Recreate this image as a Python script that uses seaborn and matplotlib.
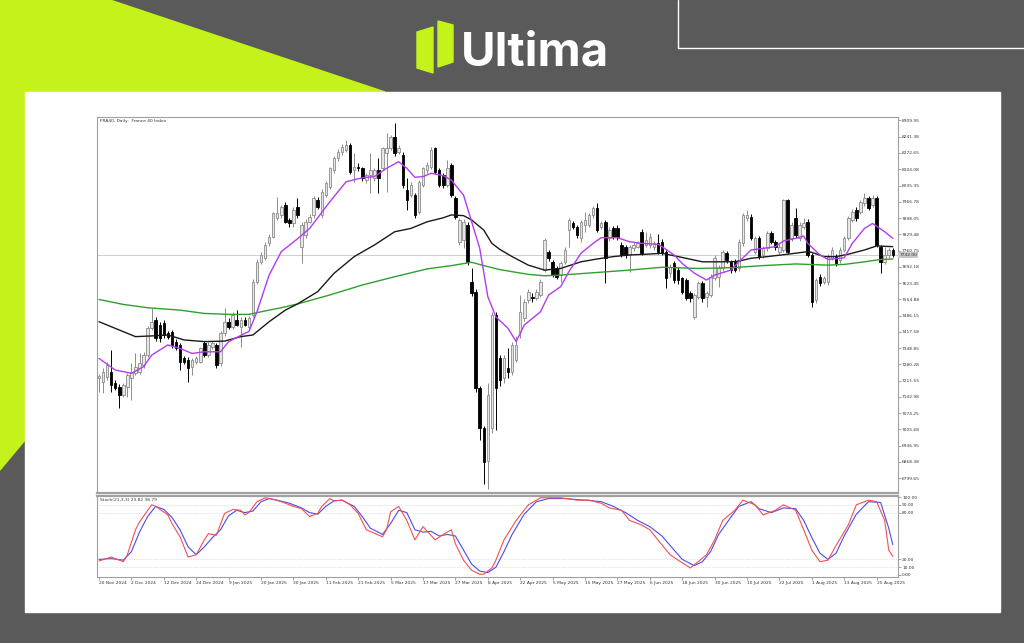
import numpy as np
import pandas as pd
import matplotlib
matplotlib.use('Agg')
import matplotlib.pyplot as plt
import seaborn as sns
from matplotlib.patches import Polygon, Rectangle

sns.set_theme(style='white')
plt.rcParams['font.family'] = ['DejaVu Sans']

# ---------------- data ----------------
date_labels = ['20 Nov 2024', '2 Dec 2024', '12 Dec 2024', '24 Dec 2024', '9 Jan 2025',
               '20 Jan 2025', '30 Jan 2025', '11 Feb 2025', '21 Feb 2025', '5 Mar 2025',
               '17 Mar 2025', '27 Mar 2025', '8 Apr 2025', '22 Apr 2025', '5 May 2025',
               '15 May 2025', '27 May 2025', '6 Jun 2025', '18 Jun 2025', '30 Jun 2025',
               '10 Jul 2025', '22 Jul 2025', '1 Aug 2025', '13 Aug 2025', '25 Aug 2025']

opens = [7222, 7207, 7228, 7249, 7200, 7186, 7150, 7186, 7221, 7242,
         7249, 7277, 7319, 7432, 7467, 7446, 7453, 7411, 7418, 7376,
         7362, 7305, 7298, 7270, 7291, 7291, 7369, 7319, 7355, 7362,
         7284, 7411, 7460, 7439, 7467, 7439, 7467, 7439, 7488, 7629,
         7713, 7728, 7791, 7819, 7897, 7911, 7953, 7890, 7875, 7946,
         7777, 7826, 7882, 7911, 7974, 7911, 7995, 8030, 8101, 8150,
         8178, 8185, 8206, 8101, 8115, 8108, 8058, 8080, 8066, 8101,
         8108, 8171, 8192, 8241, 8178, 8164, 8016, 7995, 7995, 7925,
         8037, 8101, 8115, 8192, 8101, 8080, 8037, 8122, 7981, 7798,
         7805, 7868, 7629, 7587, 7178, 7010, 6870, 7010, 7488, 7305,
         7221, 7263, 7249, 7300, 7418, 7474, 7552, 7566, 7559, 7573,
         7678, 7756, 7713, 7685, 7657, 7713, 7847, 7875, 7861, 7812,
         7868, 7868, 7911, 7939, 7861, 7882, 7812, 7854, 7854, 7784,
         7777, 7742, 7770, 7777, 7840, 7784, 7784, 7777, 7791, 7798,
         7756, 7664, 7706, 7678, 7643, 7636, 7580, 7481, 7566, 7622,
         7566, 7573, 7643, 7650, 7685, 7749, 7713, 7713, 7685, 7791,
         7897, 7904, 7756, 7812, 7742, 7770, 7833, 7798, 7756, 7763,
         7974, 7812, 7897, 7812, 7861, 7882, 7742, 7552, 7650, 7629,
         7629, 7728, 7735, 7721, 7763, 7812, 7890, 7932, 7925, 7960,
         7981, 7953, 7981, 7777, 7713, 7742, 7763]

highs = [7240, 7263, 7291, 7340, 7215, 7195, 7200, 7245, 7284, 7326,
         7326, 7333, 7440, 7516, 7480, 7460, 7467, 7420, 7425, 7385,
         7370, 7315, 7310, 7305, 7315, 7355, 7380, 7375, 7380, 7370,
         7420, 7516, 7475, 7500, 7510, 7480, 7480, 7485, 7640, 7725,
         7755, 7795, 7830, 7925, 7988, 7955, 7965, 7900, 7945, 7981,
         7880, 7895, 7915, 7990, 7985, 8020, 8055, 8115, 8160, 8190,
         8210, 8227, 8215, 8171, 8130, 8115, 8090, 8171, 8110, 8150,
         8200, 8256, 8250, 8298, 8205, 8175, 8066, 8050, 8005, 8060,
         8115, 8135, 8200, 8200, 8110, 8090, 8143, 8130, 7990, 7900,
         7895, 7880, 7685, 7600, 7190, 7020, 7200, 7500, 7500, 7320,
         7320, 7347, 7375, 7400, 7573, 7555, 7600, 7580, 7600, 7640,
         7815, 7765, 7720, 7695, 7715, 7775, 7900, 7885, 7870, 7890,
         7925, 7920, 7950, 7960, 7885, 7890, 7860, 7865, 7870, 7795,
         7785, 7785, 7795, 7800, 7850, 7840, 7835, 7800, 7830, 7810,
         7765, 7705, 7715, 7690, 7650, 7645, 7590, 7580, 7630, 7630,
         7590, 7660, 7740, 7700, 7765, 7760, 7720, 7725, 7810, 7920,
         7932, 7915, 7820, 7820, 7780, 7845, 7845, 7805, 7790, 7980,
         7980, 7880, 7939, 7880, 7900, 7895, 7750, 7645, 7660, 7655,
         7745, 7775, 7745, 7775, 7820, 7905, 7935, 7945, 7975, 8002,
         7990, 7995, 7990, 7785, 7775, 7770, 7770]

lows = [7165, 7157, 7214, 7164, 7170, 7097, 7140, 7143, 7129, 7235,
        7240, 7265, 7310, 7425, 7380, 7375, 7390, 7385, 7350, 7340,
        7256, 7280, 7207, 7235, 7280, 7285, 7310, 7310, 7345, 7265,
        7275, 7400, 7430, 7430, 7440, 7355, 7440, 7430, 7480, 7620,
        7705, 7720, 7780, 7812, 7890, 7900, 7875, 7860, 7860, 7900,
        7706, 7815, 7875, 7900, 7935, 7900, 7985, 8020, 8090, 8140,
        8165, 8175, 8085, 8050, 8095, 8055, 8045, 8002, 8055, 8002,
        8100, 8009, 8185, 8160, 8170, 8025, 7932, 7985, 7900, 7915,
        8030, 8090, 8105, 8085, 8030, 8025, 8030, 7985, 7895, 7785,
        7770, 7700, 7570, 7165, 6960, 6775, 6755, 6990, 7003, 7190,
        7200, 7221, 7235, 7290, 7390, 7465, 7540, 7545, 7550, 7565,
        7670, 7715, 7650, 7640, 7629, 7705, 7777, 7850, 7815, 7798,
        7840, 7860, 7900, 7840, 7850, 7622, 7800, 7810, 7805, 7735,
        7730, 7671, 7760, 7770, 7740, 7775, 7770, 7765, 7745, 7740,
        7601, 7650, 7625, 7620, 7575, 7550, 7545, 7470, 7555, 7545,
        7523, 7565, 7635, 7608, 7675, 7710, 7665, 7670, 7675, 7780,
        7885, 7805, 7745, 7725, 7730, 7760, 7790, 7765, 7745, 7755,
        7745, 7800, 7815, 7800, 7850, 7735, 7523, 7540, 7610, 7620,
        7615, 7720, 7695, 7710, 7755, 7805, 7880, 7885, 7915, 7950,
        7930, 7945, 7775, 7664, 7705, 7730, 7735]

closes = [7230, 7249, 7277, 7193, 7180, 7150, 7193, 7235, 7249, 7270,
          7284, 7319, 7432, 7460, 7390, 7390, 7404, 7397, 7362, 7347,
          7291, 7291, 7263, 7298, 7305, 7347, 7319, 7362, 7369, 7277,
          7411, 7460, 7439, 7488, 7446, 7467, 7446, 7474, 7629, 7713,
          7742, 7784, 7819, 7918, 7918, 7946, 7882, 7875, 7932, 7911,
          7868, 7882, 7904, 7981, 7946, 8009, 8044, 8108, 8150, 8178,
          8199, 8206, 8094, 8115, 8108, 8066, 8080, 8101, 8101, 8066,
          8192, 8192, 8241, 8171, 8192, 8037, 7974, 8037, 7911, 8051,
          8108, 8122, 8185, 8094, 8037, 8037, 8108, 7995, 7904, 7890,
          7882, 7713, 7580, 7178, 7010, 6869, 7150, 7488, 7180, 7214,
          7305, 7249, 7362, 7362, 7502, 7545, 7587, 7559, 7587, 7629,
          7805, 7728, 7657, 7650, 7706, 7763, 7890, 7861, 7826, 7882,
          7890, 7911, 7939, 7847, 7875, 7728, 7847, 7819, 7819, 7742,
          7742, 7777, 7784, 7791, 7749, 7805, 7819, 7791, 7756, 7749,
          7643, 7692, 7636, 7636, 7587, 7559, 7559, 7573, 7622, 7559,
          7580, 7650, 7728, 7685, 7756, 7721, 7678, 7678, 7798, 7911,
          7911, 7812, 7812, 7735, 7770, 7833, 7798, 7777, 7777, 7974,
          7756, 7868, 7826, 7868, 7875, 7742, 7545, 7636, 7622, 7643,
          7735, 7763, 7706, 7763, 7812, 7897, 7925, 7897, 7967, 7981,
          7939, 7981, 7784, 7713, 7742, 7763, 7742]

# moving averages (bar index, value)
ma_fast_bar = [0, 4, 8, 11, 13, 17, 20, 23, 26, 30, 32, 36, 37, 39, 42, 45, 49, 52, 57, 61,
               65, 68, 71, 74, 76, 78, 80, 82, 85, 87, 90, 91, 94, 96, 98, 101, 103, 105, 109, 111,
               114, 116, 119, 122, 124, 128, 131, 134, 138, 139, 142, 144, 147, 150, 152, 156, 158, 161, 164, 167,
               169, 172, 174, 175, 178, 180, 184, 186, 189, 191, 194, 196]
ma_fast_val = [7305, 7256, 7242, 7270, 7319, 7362, 7347, 7326, 7333, 7333, 7376, 7411, 7418, 7502, 7657, 7756, 7810, 7854, 7967, 8051,
               8068, 8073, 8108, 8136, 8108, 8070, 8073, 8087, 8077, 8058, 7995, 7939, 7770, 7566, 7480, 7432, 7376, 7446, 7502, 7573,
               7608, 7671, 7749, 7791, 7815, 7815, 7798, 7791, 7787, 7777, 7742, 7706, 7665, 7636, 7657, 7678, 7713, 7763, 7770, 7777,
               7801, 7812, 7822, 7791, 7742, 7723, 7730, 7791, 7854, 7875, 7840, 7812]

ma_mid_bar = [0, 4, 9, 13, 17, 21, 26, 31, 35, 38, 42, 46, 49, 54, 58, 63, 68, 73, 77, 81,
              85, 87, 90, 92, 95, 97, 99, 102, 106, 110, 114, 119, 123, 127, 131, 135, 139, 143, 149, 156,
              158, 161, 165, 170, 175, 176, 179, 182, 185, 189, 192, 196]
ma_mid_val = [7460, 7432, 7397, 7400, 7404, 7383, 7376, 7378, 7397, 7404, 7460, 7509, 7535, 7587, 7664, 7735, 7784, 7840, 7854, 7882,
              7899, 7911, 7908, 7890, 7847, 7791, 7765, 7735, 7699, 7678, 7685, 7713, 7725, 7735, 7742, 7745, 7749, 7735, 7713, 7713,
              7716, 7728, 7735, 7745, 7756, 7753, 7735, 7735, 7745, 7763, 7780, 7777]

ma_slow_bar = [0, 6, 12, 20, 26, 32, 37, 42, 45, 49, 57, 65, 73, 81, 87, 92, 95, 99, 106, 110,
               114, 123, 131, 139, 148, 156, 164, 172, 180, 184, 189, 193, 196]
ma_slow_val = [7554, 7533, 7519, 7509, 7495, 7491, 7491, 7509, 7519, 7535, 7573, 7615, 7650, 7683, 7697, 7711, 7697, 7680, 7660, 7654,
               7657, 7668, 7678, 7690, 7685, 7688, 7697, 7704, 7699, 7702, 7713, 7723, 7725]

# stochastic (21,3,3): main (red) and signal (blue)
stoch_main_bar = [0, 3, 6, 7, 9, 10, 13, 14, 17, 18, 20, 22, 24, 26, 27, 29, 31, 33, 35, 36,
                  37, 39, 41, 43, 45, 48, 50, 52, 54, 55, 57, 58, 60, 62, 64, 66, 70, 71, 72, 74,
                  76, 78, 80, 83, 85, 87, 88, 90, 92, 94, 95, 97, 98, 100, 103, 106, 109, 114, 118, 121,
                  124, 126, 129, 131, 134, 136, 138, 141, 143, 146, 147, 150, 152, 154, 157, 159, 162, 164, 167, 169,
                  172, 174, 176, 178, 180, 182, 185, 187, 190, 192, 194, 195, 196]
stoch_main_val = [18, 23, 17, 26, 58, 68, 90, 88, 77, 66, 49, 23, 26, 45, 53, 51, 79, 84, 83, 77,
                  80, 94, 99, 97, 94, 88, 85, 75, 79, 88, 98, 95, 96, 90, 79, 58, 49, 58, 81, 88,
                  70, 45, 62, 45, 52, 58, 40, 19, 6, 1, 1, 9, 19, 45, 70, 90, 99, 99, 96, 96,
                  92, 86, 83, 70, 64, 58, 45, 26, 19, 9, 13, 26, 45, 70, 83, 96, 90, 77, 83, 90,
                  83, 58, 32, 17, 19, 38, 64, 90, 96, 94, 70, 32, 23.82]
stoch_sig_bar = [0, 3, 6, 8, 10, 12, 14, 16, 18, 20, 22, 24, 26, 28, 30, 32, 34, 36, 38, 40,
                 42, 44, 47, 50, 52, 54, 56, 58, 60, 63, 65, 67, 70, 72, 74, 76, 78, 80, 82, 84,
                 86, 88, 90, 92, 94, 96, 98, 100, 102, 105, 108, 111, 115, 120, 124, 127, 130, 133, 136, 139,
                 142, 144, 147, 149, 151, 153, 156, 158, 161, 163, 166, 169, 172, 174, 176, 178, 180, 182, 184, 187,
                 190, 193, 195, 196]
stoch_sig_val = [20, 21, 19, 30, 55, 75, 88, 84, 74, 58, 36, 26, 36, 48, 58, 76, 83, 80, 82, 94,
                 98, 96, 92, 86, 80, 78, 88, 95, 96, 88, 75, 60, 52, 66, 83, 80, 58, 55, 56, 50,
                 52, 50, 32, 14, 5, 3, 10, 30, 52, 78, 94, 98, 98, 96, 94, 88, 80, 70, 62, 50,
                 32, 20, 12, 17, 30, 52, 74, 88, 94, 85, 80, 86, 85, 70, 48, 28, 20, 28, 50, 78,
                 94, 93, 60, 38.79]

price_levels = [6799.65, 6868.38, 6936.95, 7005.68, 7074.25, 7142.98, 7211.55, 7280.28,
                7348.85, 7417.58, 7486.15, 7554.88, 7623.45, 7692.18, 7760.75, 7829.48,
                7898.05, 7966.78, 8035.35, 8104.08, 8172.65, 8241.38, 8309.95]
stoch_levels = [0, 10, 20, 80, 90, 100]

# ---------------- figure ----------------
W, H = 1024, 643
DARK = '#5a5a5a'
LIME = '#c4f21a'
fig = plt.figure(figsize=(W / 100, H / 100), dpi=100)

bg = fig.add_axes([0, 0, 1, 1])
bg.set_xlim(0, W)
bg.set_ylim(H, 0)
bg.axis('off')
bg.add_patch(Rectangle((0, 0), W, H, color=DARK, zorder=0))
bg.add_patch(Polygon([(0, 0), (110, 0), (385, 92), (25, 92), (25, 440), (0, 470)],
                     closed=True, color=LIME, zorder=1))
bg.add_patch(Rectangle((25, 92), 975, 520, color='white', zorder=2))
bg.plot([678, 678, 1024], [0, 48, 48], color='white', lw=1.0, zorder=1)
# logo
bg.add_patch(Polygon([(417, 32), (433, 27), (433, 73), (417, 68)], closed=True, color=LIME, zorder=3))
bg.add_patch(Polygon([(438, 21), (453, 25), (453, 62), (438, 67)], closed=True, color=LIME, zorder=3))
bg.text(461, 65, 'Ultima', color='white', fontsize=34, fontweight='bold',
        family=['Inter', 'DejaVu Sans'], ha='left', va='baseline', zorder=3)


def px_axes(l, t, r, b):
    return fig.add_axes([l / W, 1 - b / H, (r - l) / W, (b - t) / H])


ax = px_axes(97, 117, 898, 493)
ax2 = px_axes(97, 496, 898, 577)

n = len(opens)
x = np.arange(n)
df = pd.DataFrame({'bar': x, 'open': opens, 'high': highs, 'low': lows, 'close': closes})
bull = df['close'] >= df['open']

# wicks
ax.vlines(df['bar'][bull], df['low'][bull], df['high'][bull], color='#8c8c8c', lw=0.7, zorder=2)
ax.vlines(df['bar'][~bull], df['low'][~bull], df['high'][~bull], color='black', lw=0.7, zorder=2)
body_lo = np.minimum(df['open'], df['close'])
body_h = np.maximum(np.abs(df['close'] - df['open']), 3)
ax.bar(df['bar'][bull], body_h[bull], bottom=body_lo[bull], width=0.62,
       color='#e6e6e6', edgecolor='#8c8c8c', linewidth=0.6, zorder=3)
ax.bar(df['bar'][~bull], body_h[~bull], bottom=body_lo[~bull], width=0.62,
       color='black', edgecolor='black', linewidth=0.6, zorder=3)

sns.lineplot(x=ma_slow_bar, y=ma_slow_val, ax=ax, color='#2ea02e', lw=1.0, zorder=4)
sns.lineplot(x=ma_mid_bar, y=ma_mid_val, ax=ax, color='#1a1a1a', lw=1.0, zorder=4)
sns.lineplot(x=ma_fast_bar, y=ma_fast_val, ax=ax, color='#b23cf2', lw=1.0, zorder=5)

last = closes[-1]
ax.axhline(last, color='#c8c8c8', lw=0.6, zorder=1)

xmax = (898 - 99) / 4.05
ax.set_xlim(-0.5, xmax)
ax.set_ylim(6736.5, 8324.7)
ax.set_xticks([])
ax.yaxis.tick_right()
ax.set_yticks(price_levels)
ax.set_yticklabels([f'{v:.2f}' for v in price_levels])
ax.tick_params(axis='y', right=True, left=False, length=2, width=0.5, color='#808080',
               labelsize=3.2, pad=1, labelcolor='#333333')
for s in ax.spines.values():
    s.set_color('#a0a0a0')
    s.set_linewidth(0.8)
ax.spines['bottom'].set_linewidth(1.6)
ax.set_xlabel('')
ax.set_ylabel('')
ax.text(0.004, 0.995, 'FRA40, Daily:  France 40 Index', transform=ax.transAxes,
        fontsize=3.2, color='#333333', ha='left', va='top')
ax.text(xmax + 0.3, last, f'{last:.2f}', fontsize=3.2, color='#333333', ha='left', va='center',
        bbox=dict(boxstyle='square,pad=0.25', fc='#c8c8c8', ec='none'), clip_on=False, zorder=6)

# stochastic
for lv in [10, 20, 80, 90]:
    ax2.axhline(lv, color='#c8c8c8', lw=0.5, ls=(0, (1, 1.5)), zorder=1)
sns.lineplot(x=stoch_sig_bar, y=stoch_sig_val, ax=ax2, color='#4a4af5', lw=0.8, zorder=3)
sns.lineplot(x=stoch_main_bar, y=stoch_main_val, ax=ax2, color='#f55050', lw=0.8, zorder=4)
ax2.set_xlim(-0.5, xmax)
ax2.set_ylim(-2.6, 101.3)
ax2.yaxis.tick_right()
ax2.set_yticks(stoch_levels)
ax2.set_yticklabels([f'{v:.2f}' for v in stoch_levels])
ax2.tick_params(axis='y', right=True, left=False, length=2, width=0.5, color='#808080',
                labelsize=3.2, pad=1, labelcolor='#333333')
ax2.set_xticks(np.arange(0, n, 8))
ax2.set_xticklabels(date_labels, ha='left')
ax2.tick_params(axis='x', bottom=True, length=2, width=0.5, color='#808080',
                labelsize=3.2, pad=1, labelcolor='#333333')
for s in ax2.spines.values():
    s.set_color('#a0a0a0')
    s.set_linewidth(0.8)
ax2.spines['top'].set_linewidth(1.6)
ax2.set_xlabel('')
ax2.set_ylabel('')
ax2.text(0.004, 0.97, 'Stoch(21,3,3) 23.82 38.79', transform=ax2.transAxes,
         fontsize=3.2, color='#333333', ha='left', va='top')

fig.savefig('out.png', dpi=100)
